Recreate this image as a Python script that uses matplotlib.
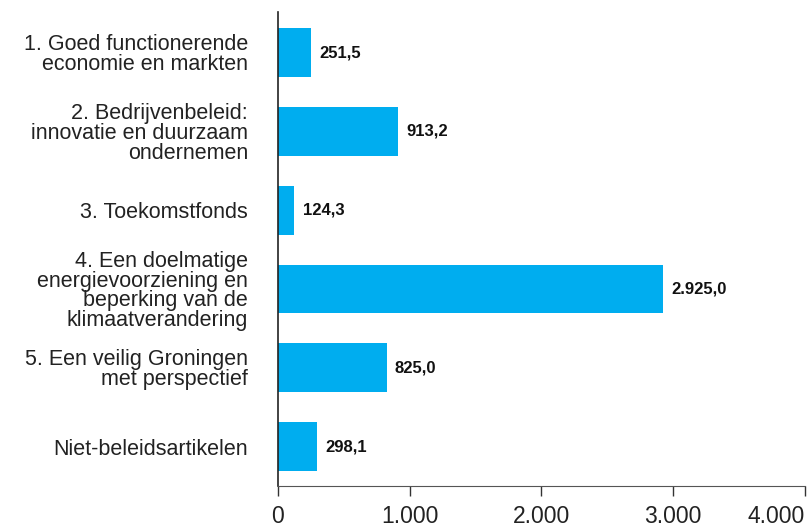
import matplotlib.pyplot as plt
import matplotlib.ticker as mticker

plt.rcParams['font.family'] = ['Liberation Sans', 'DejaVu Sans']

categories = [
    '1. Goed functionerende\neconomie en markten',
    '2. Bedrijvenbeleid:\ninnovatie en duurzaam\nondernemen',
    '3. Toekomstfonds',
    '4. Een doelmatige\nenergievoorziening en\nbeperking van de\nklimaatverandering',
    '5. Een veilig Groningen\nmet perspectief',
    'Niet-beleidsartikelen',
]
values = [251.5, 913.2, 124.3, 2925.0, 825.0, 298.1]
xticks = [0, 1000, 2000, 3000, 4000]


def nl(v, decimals=0):
    s = f'{v:,.{decimals}f}'
    return s.replace(',', 'X').replace('.', ',').replace('X', '.')


fig = plt.figure(figsize=(8.08, 5.28), dpi=100)
ax = fig.add_axes([0.344, 0.0795, 0.652, 0.8985])

pos = list(range(len(values)))
ax.barh(pos, values, height=0.62, color='#00adef')

for p, v in zip(pos, values):
    ax.annotate(nl(v, 1), (v, p), xytext=(6, 0), textcoords='offset points',
                va='center', ha='left', fontsize=12, fontweight='bold', color='#111111')

ax.set_ylim(5.5, -0.52)
ax.set_xlim(0, 4000)
ax.set_yticks(pos)
ax.set_yticklabels(categories, fontsize=15.5, color='#222222', linespacing=0.93)
ax.tick_params(axis='y', length=0, pad=21.5)
ax.set_xticks(xticks)
ax.xaxis.set_major_formatter(mticker.FuncFormatter(lambda x, p: nl(x)))
ax.tick_params(axis='x', length=7, width=1, color='#333333', labelsize=16.5,
               labelcolor='#222222', pad=7)
ax.get_xticklabels()[-1].set_horizontalalignment('right')

for s in ['top', 'right']:
    ax.spines[s].set_visible(False)
ax.spines['left'].set_color('#222222')
ax.spines['bottom'].set_color('#555555')
ax.spines['left'].set_linewidth(1.2)

fig.savefig('out.png', dpi=100)
